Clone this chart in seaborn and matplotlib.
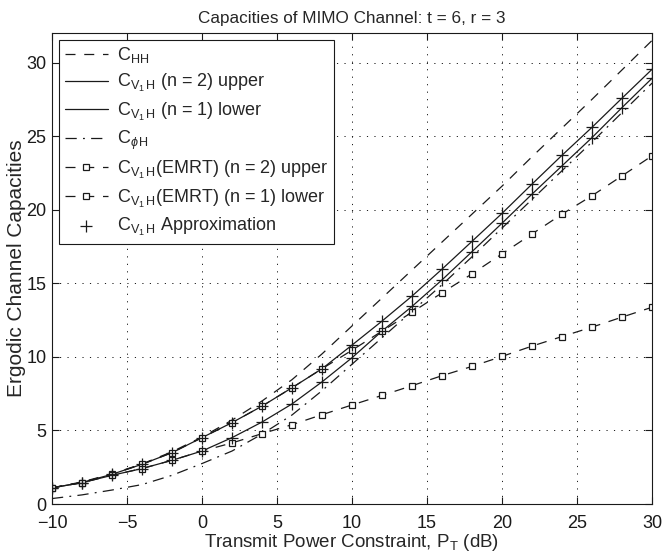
import matplotlib
matplotlib.use("Agg")
import matplotlib.pyplot as plt
import pandas as pd
import seaborn as sns

# Transmit power grid (dB) and ergodic capacities (bits/s/Hz)
power_db = list(range(-10, 31, 2))

c_hh = [1.10, 1.50, 2.05, 2.72, 3.55, 4.55, 5.70, 7.00, 8.45, 10.20, 12.10,
        14.00, 15.90, 17.80, 19.70, 21.60, 23.60, 25.55, 27.50, 29.50, 31.50]
c_v1h_upper = [1.10, 1.46, 2.02, 2.70, 3.49, 4.51, 5.53, 6.65, 7.90, 9.19, 10.80,
               12.43, 14.13, 15.96, 17.85, 19.75, 21.74, 23.70, 25.60, 27.58, 29.54]
c_v1h_lower = [1.10, 1.45, 1.95, 2.41, 2.97, 3.60, 4.51, 5.57, 6.80, 8.30, 9.94,
               11.75, 13.43, 15.23, 17.15, 19.08, 21.06, 22.98, 24.90, 26.94, 28.93]
c_phi_h = [0.37, 0.62, 0.95, 1.32, 1.95, 2.75, 3.60, 4.75, 6.05, 7.70, 9.50,
           11.30, 13.10, 14.90, 16.80, 18.75, 20.70, 22.65, 24.60, 26.60, 28.60]
c_emrt_upper = [1.10, 1.46, 2.02, 2.70, 3.49, 4.51, 5.53, 6.65, 7.90, 9.19, 10.45,
                11.75, 13.03, 14.35, 15.64, 17.00, 18.35, 19.70, 20.95, 22.30, 23.66]
c_emrt_lower = [1.10, 1.45, 1.95, 2.41, 2.97, 3.60, 4.15, 4.78, 5.39, 6.07, 6.73,
                7.38, 8.04, 8.72, 9.35, 10.03, 10.73, 11.38, 12.02, 12.70, 13.37]
approx_upper = [1.10, 1.46, 2.02, 2.70, 3.49, 4.51, 5.53, 6.65, 7.90, 9.19, 10.80,
                12.43, 14.13, 15.96, 17.85, 19.75, 21.74, 23.70, 25.60, 27.58, 29.54]
approx_lower = [1.10, 1.45, 1.95, 2.41, 2.97, 3.60, 4.51, 5.57, 6.80, 8.30, 9.94,
                11.75, 13.43, 15.23, 17.15, 19.08, 21.06, 22.98, 24.90, 26.94, 28.93]

x_ticks = [-10, -5, 0, 5, 10, 15, 20, 25, 30]
y_ticks = [0, 5, 10, 15, 20, 25, 30]

sns.set_theme(style="ticks")
plt.rcParams["font.family"] = ["Liberation Sans", "DejaVu Sans"]
plt.rcParams["mathtext.fontset"] = "custom"
plt.rcParams["mathtext.rm"] = "Liberation Sans"
plt.rcParams["mathtext.it"] = "Liberation Sans:italic"
plt.rcParams["mathtext.sf"] = "Liberation Sans"
plt.rcParams["mathtext.bf"] = "Liberation Sans:bold"

fig = plt.figure(figsize=(6.64, 5.56), dpi=100)
ax = fig.add_axes([0.0783, 0.0935, 0.9037, 0.847])

lw = 0.9
dash = (0, (8, 7))
dashdot = (0, (9, 5, 1.5, 5))

lab_hh = r"$\mathrm{C}_{\mathrm{HH}}$"
lab_up = r"$\mathrm{C}_{\mathrm{V}_{1}\,\mathrm{H}}$ (n = 2) upper"
lab_lo = r"$\mathrm{C}_{\mathrm{V}_{1}\,\mathrm{H}}$ (n = 1) lower"
lab_phi = r"$\mathrm{C}_{\phi\,\mathrm{H}}$"
lab_e2 = r"$\mathrm{C}_{\mathrm{V}_{1}\,\mathrm{H}}$(EMRT) (n = 2) upper"
lab_e1 = r"$\mathrm{C}_{\mathrm{V}_{1}\,\mathrm{H}}$(EMRT) (n = 1) lower"
lab_ap = r"$\mathrm{C}_{\mathrm{V}_{1}\,\mathrm{H}}$ Approximation"

sns.lineplot(x=power_db, y=c_hh, ax=ax, color="k", lw=lw, linestyle=dash, label=lab_hh)
sns.lineplot(x=power_db, y=c_v1h_upper, ax=ax, color="k", lw=lw, linestyle="-", label=lab_up)
sns.lineplot(x=power_db, y=c_v1h_lower, ax=ax, color="k", lw=lw, linestyle="-", label=lab_lo)
sns.lineplot(x=power_db, y=c_phi_h, ax=ax, color="k", lw=lw, linestyle=dashdot, label=lab_phi)
sns.lineplot(x=power_db, y=c_emrt_upper, ax=ax, color="k", lw=lw, linestyle=dash,
             marker="s", markersize=4, markerfacecolor="w", markeredgecolor="k",
             markeredgewidth=0.9, label=lab_e2)
sns.lineplot(x=power_db, y=c_emrt_lower, ax=ax, color="k", lw=lw, linestyle=dash,
             marker="s", markersize=4, markerfacecolor="w", markeredgecolor="k",
             markeredgewidth=0.9, label=lab_e1)

approx = pd.DataFrame({
    "power": power_db + power_db,
    "capacity": approx_upper + approx_lower,
})
sns.scatterplot(data=approx, x="power", y="capacity", ax=ax, marker="+", s=80,
                color="k", linewidth=0.9, label=lab_ap, zorder=5)

ax.set_xlim(-10, 30)
ax.set_ylim(0, 32)
ax.set_xticks(x_ticks)
ax.set_yticks(y_ticks)
ax.grid(True, color="k", linestyle=(0, (1.2, 6.5)), lw=0.7)
ax.tick_params(direction="in", top=True, right=True, length=5, width=0.8,
               labelsize=13, colors="k")
ax.tick_params(axis="x", pad=8)
ax.tick_params(axis="y", pad=4)
for sp in ax.spines.values():
    sp.set_color("k")
    sp.set_linewidth(0.8)

ax.set_title("Capacities of MIMO Channel: t = 6, r = 3", fontsize=12.3, pad=7)
ax.set_xlabel(r"Transmit Power Constraint, $\mathrm{P}_{\mathrm{T}}$ (dB)", fontsize=13.5, labelpad=0)
ax.set_ylabel("Ergodic Channel Capacities", fontsize=15, labelpad=0)

leg = ax.legend(loc="upper left", bbox_to_anchor=(0.006, 0.993), fontsize=13,
                frameon=True, fancybox=False, framealpha=1, edgecolor="k",
                borderpad=0.3, labelspacing=0.36, handlelength=2.4, handletextpad=0.5,
                borderaxespad=0.2)
leg.get_frame().set_linewidth(0.8)

fig.savefig("out.png", dpi=100)
